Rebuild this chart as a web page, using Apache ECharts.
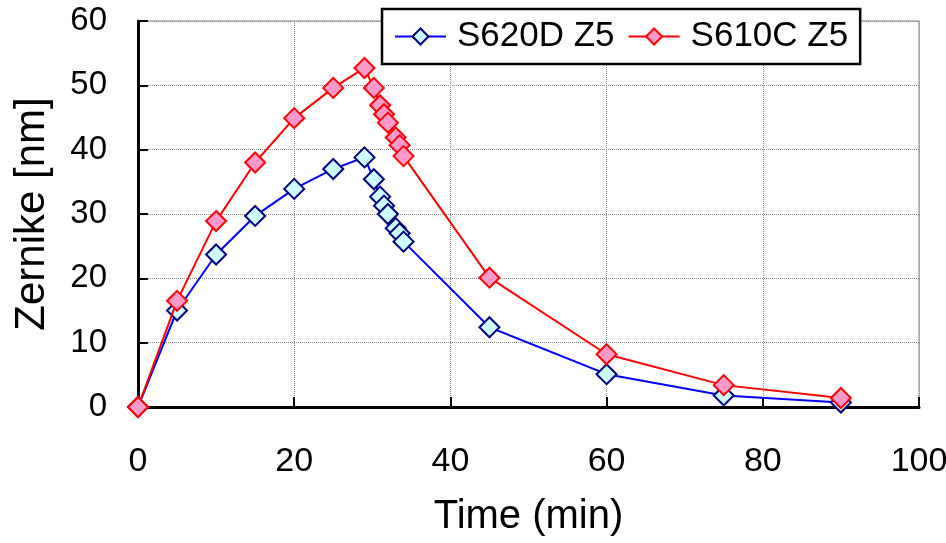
<!DOCTYPE html>
<html>
<head>
<meta charset="utf-8">
<script src="https://cdn.jsdelivr.net/npm/echarts@6/dist/echarts.min.js"></script>
<style>
    html, body { margin: 0; padding: 0; background: #fff; }
    #chart { width: 946px; height: 543px; }
</style>
</head>
<body>
<div id="chart"></div>
<script>
    var timeMin = [0, 5, 10, 15, 20, 25, 29, 30.2, 31, 31.5, 32, 33, 33.5, 34, 45, 60, 75, 90];
    var s620d = [0, 15.0, 23.7, 29.7, 33.9, 37.0, 38.8, 35.4, 32.7, 31.3, 30.0, 27.8, 27.0, 25.7, 12.4, 5.1, 1.8, 0.7];
    var s610c = [0, 16.5, 28.9, 38.0, 44.9, 49.6, 52.7, 49.6, 46.9, 45.5, 44.2, 41.9, 40.7, 39.0, 20.1, 8.2, 3.4, 1.4];
    var seriesNames = ['S620D Z5', 'S610C Z5'];

    function pairs(xs, ys) {
        var out = [];
        for (var i = 0; i < xs.length; i++) out.push([xs[i], ys[i]]);
        return out;
    }

    var font = 'Liberation Sans, Arial, sans-serif';
    var chart = echarts.init(document.getElementById('chart'));
    var option = {
        animation: false,
        backgroundColor: '#fff',
        grid: {
            left: 138, right: 27, top: 21, bottom: 136,
            outerBoundsMode: 'none', containLabel: false,
            show: true, borderColor: '#888', borderWidth: 1
        },
        legend: {
            data: seriesNames,
            left: 382, top: 9,
            itemWidth: 51, itemHeight: 20, itemGap: 13,
            padding: [10, 12, 10, 12],
            backgroundColor: '#fff',
            borderColor: '#000', borderWidth: 2.5,
            textStyle: { fontFamily: font, fontSize: 35, color: '#000', padding: [0, 0, 0, 6] }
        },
        xAxis: {
            type: 'value', min: 0, max: 100, interval: 20,
            name: 'Time (min)', nameLocation: 'middle', nameGap: 90,
            nameTextStyle: { fontFamily: font, fontSize: 40, color: '#000' },
            axisLine: { onZero: false, lineStyle: { color: '#000', width: 3 } },
            axisTick: { inside: true, length: 10, lineStyle: { color: '#000', width: 2 } },
            axisLabel: { fontFamily: font, fontSize: 34, color: '#000', margin: 38 },
            splitLine: { show: true, lineStyle: { color: '#888', type: 'dotted', width: 1 } }
        },
        yAxis: {
            type: 'value', min: 0, max: 60, interval: 10,
            name: 'Zernike [nm]', nameLocation: 'middle', nameGap: 85,
            nameTextStyle: { fontFamily: font, fontSize: 42, color: '#000' },
            axisLine: { onZero: false, lineStyle: { color: '#000', width: 3 } },
            axisTick: { inside: true, length: 10, lineStyle: { color: '#000', width: 2 } },
            axisLabel: { fontFamily: font, fontSize: 33, color: '#000', margin: 31 },
            splitLine: { show: true, lineStyle: { color: '#888', type: 'dotted', width: 1 } }
        },
        series: [
            {
                name: seriesNames[0],
                type: 'line',
                data: pairs(timeMin, s620d),
                symbol: 'diamond', symbolSize: 20,
                lineStyle: { color: '#0000ff', width: 2 },
                itemStyle: { color: '#ccffff', borderColor: '#000080', borderWidth: 2 },
                z: 2
            },
            {
                name: seriesNames[1],
                type: 'line',
                data: pairs(timeMin, s610c),
                symbol: 'diamond', symbolSize: 20,
                lineStyle: { color: '#ff0000', width: 2 },
                itemStyle: { color: '#ff99cc', borderColor: '#ff0000', borderWidth: 2 },
                z: 3
            }
        ]
    };
    chart.setOption(option);
</script>
</body>
</html>
